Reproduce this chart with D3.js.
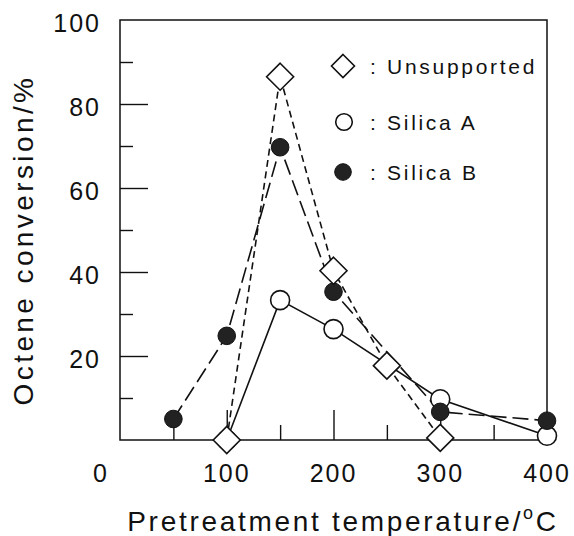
<!DOCTYPE html>
<html><head><meta charset="utf-8">
<script src="https://cdn.jsdelivr.net/npm/d3@7"></script>
<style>
html,body{margin:0;padding:0;background:#fff;}
svg text{font-family:"Liberation Sans",Arial,sans-serif;fill:#111;}
</style></head>
<body><svg id="c" width="574" height="536"></svg>
<script>
// ---- data ----
const seriesNames = ["Unsupported", "Silica A", "Silica B"];
const unsupportedTemp = [100, 150, 200, 250, 300];
const unsupportedConv = [0, 86.5, 40.3, 17.7, 0.5];
const silicaATemp = [100, 150, 200, 300, 400];
const silicaAConv = [0, 33.3, 26.4, 9.7, 1.0];
const silicaBTemp = [50, 100, 150, 200, 300, 400];
const silicaBConv = [5.0, 24.8, 69.7, 35.3, 6.7, 4.6];
const xTickLabels = [0, 100, 200, 300, 400];
const yTickLabels = [20, 40, 60, 80, 100];
const xMajorTicks = [100, 200, 300];
const xMinorTicks = [50, 150, 250, 350];
const yMajorTicks = [20, 40, 60, 80];
const yMinorTicks = [10, 30, 50, 70, 90];

// ---- layout ----
const svg = d3.select("#c");
const L = 120, R = 547, T = 20, B = 440;
const x = d3.scaleLinear().domain([0, 400]).range([L, R]);
const y = d3.scaleLinear().domain([0, 100]).range([B, T]);

// frame
svg.append("rect").attr("x", L).attr("y", T).attr("width", R - L).attr("height", B - T)
  .attr("fill", "none").attr("stroke", "#111").attr("stroke-width", 1.5);

function axisG(axis, tr) {
  const g = svg.append("g").attr("transform", tr).call(axis);
  g.select(".domain").remove();
  g.selectAll(".tick line").attr("stroke", "#111").attr("stroke-width", 1.4);
  g.selectAll(".tick text").remove();
  return g;
}
axisG(d3.axisBottom(x).tickValues(xMajorTicks).tickSize(-30), `translate(0,${B})`);
axisG(d3.axisBottom(x).tickValues(xMinorTicks).tickSize(-15), `translate(0,${B})`);
axisG(d3.axisLeft(y).tickValues(yMajorTicks).tickSize(-28), `translate(${L},0)`);
axisG(d3.axisLeft(y).tickValues(yMinorTicks).tickSize(-13), `translate(${L},0)`);

// tick labels
svg.append("g").selectAll("text").data(xTickLabels).join("text")
  .attr("x", d => d === 0 ? x(0) - 19 : x(d))
  .attr("y", 482).attr("text-anchor", "middle")
  .attr("font-size", 25).attr("letter-spacing", 2).text(d => d);
svg.append("g").selectAll("text").data(yTickLabels).join("text")
  .attr("x", 101).attr("y", d => y(d) + 12).attr("text-anchor", "end")
  .attr("font-size", 25).attr("letter-spacing", 2).text(d => d);

// axis titles
const xt = svg.append("text").attr("x", 343).attr("y", 531).attr("text-anchor", "middle")
  .attr("font-size", 28).attr("letter-spacing", 2.7);
xt.append("tspan").text("Pretreatment temperature/");
xt.append("tspan").attr("font-size", 18).attr("dy", -12).text("o");
xt.append("tspan").attr("dy", 12).text("C");
svg.append("text").attr("transform", "translate(33,240) rotate(-90)")
  .attr("text-anchor", "middle").attr("font-size", 28).attr("letter-spacing", 3.4)
  .text("Octene conversion/%");

// lines
const line = d3.line().x(d => x(d[0])).y(d => y(d[1]));
const uData = unsupportedTemp.map((t, i) => [t, unsupportedConv[i]]);
const aData = silicaATemp.map((t, i) => [t, silicaAConv[i]]);
const bData = silicaBTemp.map((t, i) => [t, silicaBConv[i]]);
svg.append("path").attr("d", line(aData)).attr("fill", "none").attr("stroke", "#111").attr("stroke-width", 1.6);
svg.append("path").attr("d", line(bData)).attr("fill", "none").attr("stroke", "#111").attr("stroke-width", 1.6)
  .attr("stroke-dasharray", "16,6");
svg.append("path").attr("d", line(uData)).attr("fill", "none").attr("stroke", "#111").attr("stroke-width", 1.6)
  .attr("stroke-dasharray", "7,4.5");

// markers
const diamond = s => `M0,${-s}L${s},0L0,${s}L${-s},0Z`;
svg.append("g").selectAll("circle").data(aData).join("circle")
  .attr("cx", d => x(d[0])).attr("cy", d => y(d[1])).attr("r", 9.5)
  .attr("fill", "#fff").attr("stroke", "#111").attr("stroke-width", 1.6);
svg.append("g").selectAll("circle").data(bData).join("circle")
  .attr("cx", d => x(d[0])).attr("cy", d => y(d[1])).attr("r", 8.8)
  .attr("fill", "#222").attr("stroke", "#111").attr("stroke-width", 1);
svg.append("g").selectAll("path").data(uData).join("path")
  .attr("transform", d => `translate(${x(d[0])},${y(d[1])})`).attr("d", diamond(13.5))
  .attr("fill", "#fff").attr("stroke", "#111").attr("stroke-width", 1.6);

// legend
const leg = svg.append("g");
const legY = [66, 122, 172];
leg.append("path").attr("transform", `translate(343,${legY[0]})`).attr("d", diamond(11.5))
  .attr("fill", "#fff").attr("stroke", "#111").attr("stroke-width", 1.6);
leg.append("circle").attr("cx", 344).attr("cy", legY[1]).attr("r", 8.3)
  .attr("fill", "#fff").attr("stroke", "#111").attr("stroke-width", 1.6);
leg.append("circle").attr("cx", 343).attr("cy", legY[2]).attr("r", 8.3)
  .attr("fill", "#222").attr("stroke", "#111").attr("stroke-width", 1);
leg.selectAll("text").data(seriesNames).join("text")
  .attr("x", 370).attr("y", (d, i) => legY[i] + 8)
  .attr("font-size", 21).attr("letter-spacing", 2.7).text(d => ": " + d);
</script></body></html>
